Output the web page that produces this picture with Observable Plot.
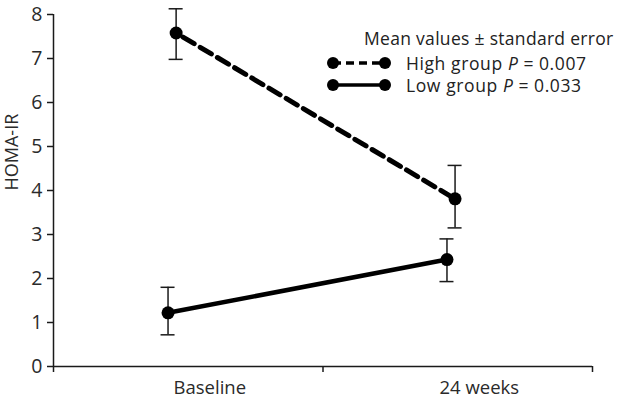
<!DOCTYPE html>
<html>
<head>
<meta charset="utf-8">
<script src="https://cdn.jsdelivr.net/npm/d3@7"></script>
<script src="https://cdn.jsdelivr.net/npm/@observablehq/plot@0.6"></script>
<style>
  body { margin: 0; background: #fff; font-family: "Open Sans", sans-serif; }
  #wrap { position: relative; width: 619px; height: 403px; }
  #legend { position: absolute; left: 326px; top: 27px; font-size: 17.5px; color: #222; line-height: 22px; white-space: nowrap; }
  #legend .row { display: flex; align-items: center; height: 22px; }
  #legend .title { margin-left: 38px; margin-bottom: 3px; font-size: 17.5px; letter-spacing: 0.3px; }
  #legend svg { margin-right: 14px; }
  #legend .lbl { letter-spacing: 0.6px; }
  #legend .eq { margin: 0 5px; }
</style>
</head>
<body>
<div id="wrap"><div id="legend"></div></div>
<script>
const categories = ["Baseline", "24 weeks"];
const groups = ["High", "Low"];
const highMean = [7.58, 3.81];
const highSE_upper = [8.13, 4.57];
const highSE_lower = [6.98, 3.15];
const lowMean = [1.22, 2.43];
const lowSE_upper = [1.80, 2.90];
const lowSE_lower = [0.72, 1.93];
const yTicks = [0, 1, 2, 3, 4, 5, 6, 7, 8];
const legendLabels = [["High group", "P", "0.007"], ["Low group", "P", "0.033"]];

// layout helpers (not data)
const catShift = 0.44, stepShift = 0.035, groupShift = {High: 0.015, Low: -0.015};
const xOf = (g, i) => i + catShift + i * stepShift + groupShift[g];

const rows = [];
categories.forEach((c, i) => {
  rows.push({group: "High", cat: c, x: xOf("High", i), y: highMean[i], lo: highSE_lower[i], hi: highSE_upper[i]});
  rows.push({group: "Low", cat: c, x: xOf("Low", i), y: lowMean[i], lo: lowSE_lower[i], hi: lowSE_upper[i]});
});
const capW = 0.026;
const ink = "#1a1a1a";

const chart = Plot.plot({
  width: 619,
  height: 403,
  marginLeft: 53,
  marginRight: 27,
  marginTop: 14,
  marginBottom: 37,
  style: {fontFamily: "Open Sans, sans-serif", fontSize: "19px", color: "#2a2a2a", background: "#fff"},
  x: {domain: [0, 2]},
  y: {domain: [0, 8]},
  marks: [
    Plot.axisY(yTicks, {tickSize: 6, tickPadding: 5, label: null, fontSize: 19.5, stroke: ink, strokeWidth: 1.5}),
    Plot.text(["HOMA-IR"], {frameAnchor: "left", rotate: -90, dx: -41, fontSize: 18, fill: "#2a2a2a"}),
    Plot.axisX([0, 1, 2], {tickSize: 6, tickFormat: () => "", label: null, stroke: ink, strokeWidth: 1.5}),
    Plot.text(categories, {x: (d, i) => i + 0.58, frameAnchor: "bottom", dy: 27, text: d => d, fontSize: 18.5, fill: "#2a2a2a"}),
    Plot.ruleX([0], {stroke: ink, strokeWidth: 1.5}),
    Plot.ruleY([0], {stroke: ink, strokeWidth: 1.5}),
    Plot.ruleX(rows, {x: "x", y1: "lo", y2: "hi", stroke: ink, strokeWidth: 1.5}),
    Plot.ruleY(rows, {y: "hi", x1: d => d.x - capW, x2: d => d.x + capW, stroke: ink, strokeWidth: 1.5}),
    Plot.ruleY(rows, {y: "lo", x1: d => d.x - capW, x2: d => d.x + capW, stroke: ink, strokeWidth: 1.5}),
    Plot.line(rows.filter(d => d.group === "High"), {x: "x", y: "y", stroke: "#000", strokeWidth: 5, strokeDasharray: "13,7", strokeDashoffset: -8}),
    Plot.line(rows.filter(d => d.group === "Low"), {x: "x", y: "y", stroke: "#000", strokeWidth: 4.5}),
    Plot.dot(rows, {x: "x", y: "y", r: 6.5, fill: "#000"})
  ]
});
document.getElementById("wrap").prepend(chart);

// legend
const leg = document.getElementById("legend");
const t = document.createElement("div");
t.className = "title";
t.textContent = "Mean values \u00b1 standard error";
leg.appendChild(t);
legendLabels.forEach((lab, k) => {
  const row = document.createElement("div");
  row.className = "row";
  const dash = k === 0 ? "8,5" : null;
  row.innerHTML = `<svg width="66" height="16" viewBox="0 0 66 16">
    <line x1="7" y1="8" x2="59" y2="8" stroke="#000" stroke-width="3.5" ${dash ? `stroke-dasharray="${dash}"` : ""}/>
    <circle cx="7" cy="8" r="6" fill="#000"/><circle cx="59" cy="8" r="6" fill="#000"/></svg>`;
  const span = document.createElement("span");
  span.className = "lbl";
  span.append(lab[0] + " ");
  const it = document.createElement("i");
  it.textContent = lab[1];
  span.append(it);
  const eq = document.createElement("span");
  eq.className = "eq";
  eq.textContent = "=";
  span.append(eq);
  span.append(lab[2]);
  row.appendChild(span);
  leg.appendChild(row);
});
</script>
</body>
</html>
